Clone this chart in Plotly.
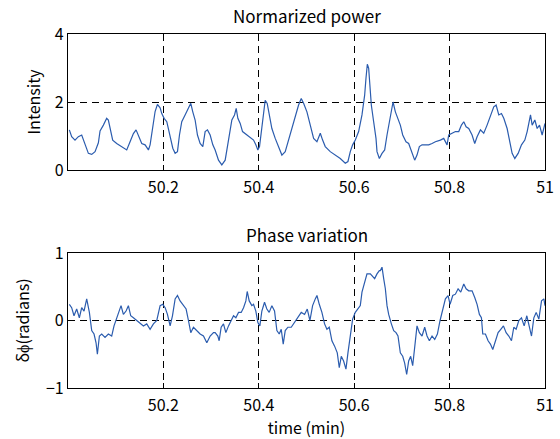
import plotly.graph_objects as go
from plotly.subplots import make_subplots

# ---- data ----
t_pow = [50.0028, 50.0077, 50.0147, 50.0217, 50.0287, 50.0336, 50.0392, 50.0427, 50.0497, 50.0567,
         50.0637, 50.0672, 50.0742, 50.0811, 50.0846, 50.0881, 50.0937, 50.1021, 50.1126, 50.1231,
         50.1301, 50.1371, 50.1427, 50.1476, 50.1546, 50.1616, 50.1686, 50.1721, 50.1777, 50.1826,
         50.1875, 50.1931, 50.1966, 50.2015, 50.2071, 50.2141, 50.2197, 50.2246, 50.2295, 50.2337,
         50.2385, 50.2455, 50.2525, 50.2574, 50.2616, 50.2665, 50.2714, 50.2770, 50.2826, 50.2875,
         50.2924, 50.2980, 50.3036, 50.3085, 50.3155, 50.3225, 50.3295, 50.3365, 50.3435, 50.3491,
         50.3526, 50.3561, 50.3610, 50.3659, 50.3750, 50.3820, 50.3890, 50.3938, 50.3980, 50.4015,
         50.4064, 50.4099, 50.4134, 50.4176, 50.4218, 50.4274, 50.4344, 50.4414, 50.4484, 50.4554,
         50.4624, 50.4694, 50.4764, 50.4834, 50.4890, 50.4939, 50.5009, 50.5079, 50.5149, 50.5219,
         50.5289, 50.5338, 50.5393, 50.5498, 50.5603, 50.5708, 50.5813, 50.5869, 50.5918, 50.5967,
         50.6023, 50.6093, 50.6163, 50.6219, 50.6247, 50.6275, 50.6303, 50.6324, 50.6359, 50.6408,
         50.6457, 50.6478, 50.6527, 50.6583, 50.6639, 50.6688, 50.6737, 50.6779, 50.6814, 50.6863,
         50.6918, 50.6967, 50.7017, 50.7086, 50.7142, 50.7198, 50.7268, 50.7317, 50.7366, 50.7422,
         50.7492, 50.7562, 50.7632, 50.7702, 50.7807, 50.7877, 50.7947, 50.7982, 50.8052, 50.8122,
         50.8192, 50.8248, 50.8297, 50.8346, 50.8401, 50.8471, 50.8527, 50.8576, 50.8646, 50.8716,
         50.8786, 50.8856, 50.8926, 50.8975, 50.9031, 50.9087, 50.9136, 50.9206, 50.9255, 50.9311,
         50.9367, 50.9437, 50.9507, 50.9577, 50.9626, 50.9696, 50.9731, 50.9787, 50.9836, 50.9885,
         50.9940, 50.9976, 51.0000]
power = [1.18, 0.98, 0.88, 0.98, 1.03, 0.83, 0.64, 0.49, 0.46, 0.54,
         0.80, 1.15, 1.32, 1.52, 1.47, 1.22, 0.88, 0.78, 0.69, 0.59,
         0.83, 1.07, 1.18, 1.03, 0.78, 0.74, 0.59, 0.74, 1.22, 1.72,
         1.93, 1.83, 1.66, 1.52, 1.42, 1.03, 0.64, 0.49, 0.54, 1.03,
         1.42, 1.62, 1.81, 1.96, 1.71, 1.47, 1.03, 0.78, 0.69, 1.13,
         1.18, 1.03, 0.74, 0.59, 0.29, 0.15, 0.29, 0.83, 1.47, 1.62,
         1.81, 1.52, 1.37, 1.13, 1.03, 0.93, 0.88, 0.74, 0.59, 0.69,
         1.22, 1.71, 2.05, 1.96, 1.62, 1.22, 0.93, 0.69, 0.44, 0.54,
         0.88, 1.22, 1.62, 1.91, 2.10, 1.96, 1.71, 1.32, 0.93, 0.83,
         1.08, 0.88, 0.69, 0.54, 0.44, 0.34, 0.20, 0.25, 0.54, 0.74,
         0.88, 1.13, 1.62, 2.20, 2.70, 3.11, 3.00, 2.60, 1.91, 1.42,
         0.93, 0.54, 0.34, 0.49, 0.59, 1.03, 1.42, 1.81, 2.00, 1.71,
         1.52, 1.32, 1.03, 0.83, 0.78, 0.54, 0.29, 0.44, 0.69, 0.74,
         0.74, 0.74, 0.78, 0.83, 0.88, 0.93, 0.74, 1.03, 1.08, 1.13,
         1.13, 1.32, 1.42, 1.27, 1.22, 1.03, 0.78, 0.98, 1.18, 1.08,
         1.32, 1.62, 1.86, 1.91, 1.62, 1.66, 1.52, 1.22, 0.83, 0.49,
         0.34, 0.49, 0.74, 0.88, 1.13, 1.62, 1.32, 1.47, 1.22, 1.32,
         1.03, 1.22, 1.37]

t_phase = [50.0028, 50.0077, 50.0126, 50.0182, 50.0238, 50.0287, 50.0336, 50.0392, 50.0448, 50.0497,
           50.0546, 50.0588, 50.0616, 50.0658, 50.0707, 50.0776, 50.0846, 50.0916, 50.0965, 50.1021,
           50.1077, 50.1112, 50.1161, 50.1217, 50.1266, 50.1315, 50.1371, 50.1441, 50.1511, 50.1581,
           50.1651, 50.1721, 50.1791, 50.1861, 50.1931, 50.1987, 50.2036, 50.2085, 50.2141, 50.2190,
           50.2246, 50.2295, 50.2350, 50.2420, 50.2476, 50.2525, 50.2574, 50.2630, 50.2700, 50.2770,
           50.2840, 50.2910, 50.2980, 50.3050, 50.3085, 50.3141, 50.3169, 50.3211, 50.3260, 50.3309,
           50.3365, 50.3421, 50.3470, 50.3519, 50.3575, 50.3631, 50.3680, 50.3729, 50.3757, 50.3799,
           50.3854, 50.3890, 50.3938, 50.3980, 50.4022, 50.4064, 50.4120, 50.4169, 50.4218, 50.4274,
           50.4330, 50.4379, 50.4428, 50.4470, 50.4512, 50.4554, 50.4610, 50.4680, 50.4750, 50.4820,
           50.4890, 50.4960, 50.5016, 50.5072, 50.5128, 50.5184, 50.5219, 50.5268, 50.5323, 50.5379,
           50.5428, 50.5477, 50.5533, 50.5589, 50.5645, 50.5687, 50.5729, 50.5778, 50.5827, 50.5869,
           50.5918, 50.5967, 50.6023, 50.6079, 50.6128, 50.6163, 50.6219, 50.6268, 50.6338, 50.6387,
           50.6429, 50.6478, 50.6527, 50.6548, 50.6583, 50.6618, 50.6653, 50.6688, 50.6723, 50.6779,
           50.6828, 50.6877, 50.6918, 50.6967, 50.7017, 50.7058, 50.7100, 50.7142, 50.7184, 50.7226,
           50.7268, 50.7317, 50.7366, 50.7422, 50.7478, 50.7527, 50.7576, 50.7632, 50.7688, 50.7744,
           50.7800, 50.7856, 50.7912, 50.7968, 50.8010, 50.8066, 50.8122, 50.8178, 50.8234, 50.8297,
           50.8346, 50.8401, 50.8471, 50.8527, 50.8576, 50.8625, 50.8667, 50.8695, 50.8751, 50.8807,
           50.8856, 50.8905, 50.8961, 50.9017, 50.9073, 50.9129, 50.9185, 50.9241, 50.9297, 50.9346,
           50.9395, 50.9451, 50.9507, 50.9563, 50.9619, 50.9675, 50.9717, 50.9766, 50.9815, 50.9871,
           50.9927, 50.9976, 51.0000]
phase = [0.24, 0.19, 0.07, 0.17, 0.04, 0.19, 0.14, 0.32, 0.12, -0.15,
         -0.20, -0.33, -0.50, -0.23, -0.20, -0.25, -0.20, -0.23, -0.08, 0.04,
         0.14, 0.22, 0.09, 0.14, 0.22, 0.07, 0.04, 0.00, -0.05, -0.08,
         -0.05, -0.13, -0.05, 0.00, 0.22, 0.24, 0.19, 0.09, -0.08, 0.07,
         0.32, 0.37, 0.29, 0.22, 0.17, 0.00, -0.18, -0.10, -0.15, -0.20,
         -0.23, -0.33, -0.23, -0.18, -0.18, -0.23, -0.30, -0.10, -0.05, -0.18,
         -0.08, 0.00, 0.07, 0.04, 0.12, 0.12, 0.19, 0.29, 0.43, 0.29,
         0.22, 0.24, 0.14, -0.03, -0.08, 0.14, 0.27, 0.17, 0.12, 0.22,
         0.14, -0.15, -0.20, -0.13, -0.35, -0.15, -0.10, -0.10, -0.03, 0.04,
         0.12, 0.09, 0.17, 0.00, 0.22, 0.32, 0.37, 0.24, 0.12, -0.05,
         -0.13, -0.10, -0.30, -0.38, -0.48, -0.70, -0.53, -0.60, -0.72, -0.48,
         -0.23, 0.02, 0.12, 0.17, 0.22, 0.42, 0.57, 0.69, 0.69, 0.66,
         0.62, 0.69, 0.74, 0.74, 0.79, 0.62, 0.47, 0.22, 0.09, -0.05,
         -0.15, -0.18, -0.23, -0.48, -0.53, -0.63, -0.80, -0.60, -0.53, -0.67,
         -0.38, -0.08, -0.18, -0.23, -0.10, -0.23, -0.30, -0.23, -0.28, -0.20,
         0.00, 0.17, 0.32, 0.37, 0.24, 0.37, 0.39, 0.47, 0.42, 0.54,
         0.47, 0.44, 0.44, 0.34, 0.24, 0.09, 0.04, -0.20, -0.20, -0.30,
         -0.35, -0.43, -0.30, -0.18, -0.13, -0.08, -0.18, -0.23, -0.30, -0.10,
         -0.13, 0.00, 0.04, -0.08, 0.07, -0.13, -0.23, 0.04, 0.12, 0.02,
         0.29, 0.32, 0.22]

x_ticks = [50.2, 50.4, 50.6, 50.8, 51]
x_ticklabels = ["50.2", "50.4", "50.6", "50.8", "51"]
pow_ticks = [0, 2, 4]
phase_ticks = [-1, 0, 1]
phase_ticklabels = ["\u22121", "0", "1"]

FONT = "Noto Sans CJK JP"
LINE = "#2b5cae"
TICKFONT = dict(family=FONT, size=16, color="black")
LABELFONT = dict(family=FONT, size=16, color="black")

fig = make_subplots(rows=2, cols=1, vertical_spacing=0.0)
fig.add_trace(go.Scatter(x=t_pow, y=power, mode="lines",
                         line=dict(color=LINE, width=1.2)), row=1, col=1)
fig.add_trace(go.Scatter(x=t_phase, y=phase, mode="lines",
                         line=dict(color=LINE, width=1.2)), row=2, col=1)

axis_common = dict(showline=True, linecolor="black", linewidth=1.3, mirror="ticks",
                   showgrid=True, gridcolor="black", gridwidth=1, griddash="7px,5px",
                   zeroline=False, ticks="inside", ticklen=5, tickcolor="black", tickwidth=1,
                   tickfont=TICKFONT, automargin=False)

fig.update_xaxes(range=[50, 51], tickvals=x_ticks, ticktext=x_ticklabels, domain=[0, 1],
                 ticklabelstandoff=3, **axis_common)
fig.update_yaxes(**axis_common)
fig.update_yaxes(range=[0, 4], tickvals=pow_ticks, domain=[0.6158, 1.0], row=1, col=1,
                 title=dict(text="Intensity", font=LABELFONT, standoff=10))
fig.update_yaxes(range=[-1, 1], tickvals=phase_ticks, ticktext=phase_ticklabels,
                 domain=[0.0, 0.3814], row=2, col=1,
                 title=dict(text="\u03b4\u03d5(radians)", font=LABELFONT, standoff=12))
fig.update_xaxes(row=2, col=1, title=dict(text="time (min)", font=LABELFONT, standoff=9))

fig.update_layout(
    width=560, height=439,
    margin=dict(l=68, r=15, t=34, b=51),
    paper_bgcolor="white", plot_bgcolor="white",
    showlegend=False,
    annotations=[
        dict(text="Normarized power", x=0.5, y=1.0, xref="paper", yref="paper",
             xanchor="center", yanchor="bottom", yshift=4, showarrow=False,
             font=dict(family=FONT, size=17, color="black")),
        dict(text="Phase variation", x=0.5, y=0.3814, xref="paper", yref="paper",
             xanchor="center", yanchor="bottom", yshift=4, showarrow=False,
             font=dict(family=FONT, size=17, color="black")),
    ],
)

fig.write_html("out.html")
